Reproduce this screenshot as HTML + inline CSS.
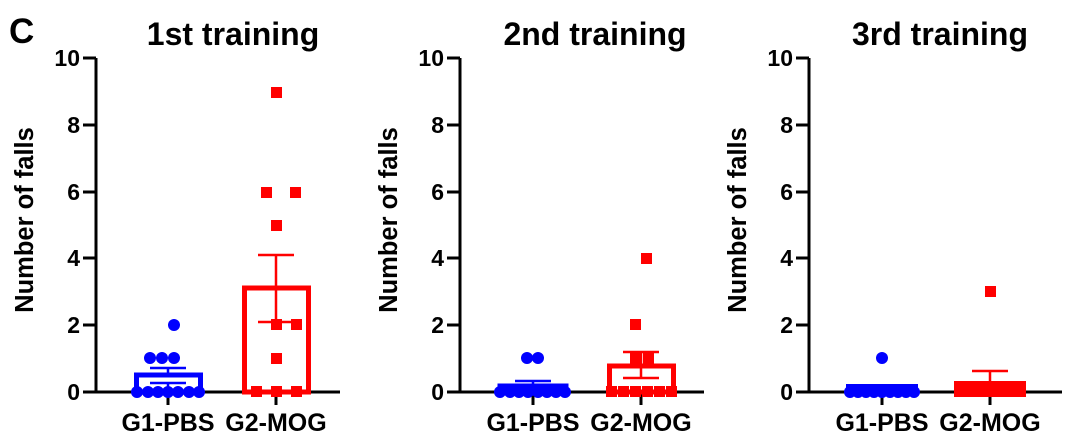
<!DOCTYPE html>
<html><head><meta charset="utf-8"><style>
html,body{margin:0;padding:0;background:#fff}
svg{display:block}
text{font-family:"Liberation Sans",Arial,sans-serif;font-weight:bold;fill:#000}
</style></head><body>
<svg width="1080" height="443" viewBox="0 0 1080 443" xmlns="http://www.w3.org/2000/svg">
<text x="9" y="43" font-size="35">C</text>

<!-- Panel 1 -->
<g>
<text x="233" y="45" font-size="32" text-anchor="middle">1st training</text>
<text transform="translate(33,220) rotate(-90)" font-size="25.5" text-anchor="middle">Number of falls</text>
<g font-size="23" text-anchor="end">
<text x="80" y="66">10</text><text x="80" y="133">8</text><text x="80" y="200">6</text><text x="80" y="266">4</text><text x="80" y="333">2</text><text x="80" y="400">0</text>
</g>
<g stroke="#000" stroke-width="3" fill="none">
<path d="M96 58V392M83 58H96M83 125H96M83 192H96M83 258H96M83 325H96M83 392H340M168 392V405M276 392V405"/>
</g>
<text x="168" y="431" font-size="25" text-anchor="middle">G1-PBS</text>
<text x="276" y="431" font-size="25" text-anchor="middle">G2-MOG</text>
<rect x="136.5" y="375" width="64" height="17" fill="none" stroke="#0000ff" stroke-width="5"/>
<path d="M168 375V368M150 368H186M168 392V383M150 383H186" stroke="#0000ff" stroke-width="2.5"/>
<g fill="#0000ff">
<circle cx="137" cy="392" r="6"/><circle cx="148" cy="392" r="6"/><circle cx="158" cy="392" r="6"/><circle cx="168" cy="392" r="6"/><circle cx="178" cy="392" r="6"/><circle cx="189" cy="392" r="6"/><circle cx="199" cy="392" r="6"/>
<circle cx="150" cy="358" r="6"/><circle cx="162" cy="358" r="6"/><circle cx="174" cy="358" r="6"/><circle cx="174" cy="325" r="6"/>
</g>
<rect x="244.5" y="288" width="64" height="104" fill="none" stroke="#ff0000" stroke-width="5"/>
<path d="M276 288V255M258 255H294M276 288V322M258 322H294" stroke="#ff0000" stroke-width="2.5"/>
<g fill="#ff0000">
<rect x="271" y="87" width="11" height="11"/><rect x="261" y="187" width="11" height="11"/><rect x="290" y="187" width="11" height="11"/><rect x="271" y="220" width="11" height="11"/>
<rect x="271" y="319" width="11" height="11"/><rect x="291" y="319" width="11" height="11"/><rect x="271" y="353" width="11" height="11"/>
<rect x="251" y="386" width="11" height="11"/><rect x="271" y="386" width="11" height="11"/><rect x="291" y="386" width="11" height="11"/>
</g>
</g>

<!-- Panel 2 -->
<g>
<text x="595" y="45" font-size="32" text-anchor="middle">2nd training</text>
<text transform="translate(397,220) rotate(-90)" font-size="25.5" text-anchor="middle">Number of falls</text>
<g font-size="23" text-anchor="end">
<text x="444" y="66">10</text><text x="444" y="133">8</text><text x="444" y="200">6</text><text x="444" y="266">4</text><text x="444" y="333">2</text><text x="444" y="400">0</text>
</g>
<g stroke="#000" stroke-width="3" fill="none">
<path d="M460 58V392M447 58H460M447 125H460M447 192H460M447 258H460M447 325H460M447 392H704M533 392V405M641 392V405"/>
</g>
<text x="533" y="431" font-size="25" text-anchor="middle">G1-PBS</text>
<text x="641" y="431" font-size="25" text-anchor="middle">G2-MOG</text>
<rect x="500" y="386" width="66" height="6" fill="none" stroke="#0000ff" stroke-width="5"/>
<path d="M533 385V381M515 381H551" stroke="#0000ff" stroke-width="2.5"/>
<g fill="#0000ff">
<circle cx="500" cy="392" r="6"/><circle cx="510" cy="392" r="6"/><circle cx="519" cy="392" r="6"/><circle cx="528" cy="392" r="6"/><circle cx="538" cy="392" r="6"/><circle cx="547" cy="392" r="6"/><circle cx="556" cy="392" r="6"/><circle cx="565" cy="392" r="6"/>
<circle cx="527" cy="358" r="6"/><circle cx="538" cy="358" r="6"/>
</g>
<rect x="609.5" y="366" width="64" height="26" fill="none" stroke="#ff0000" stroke-width="5"/>
<path d="M641 366V352M623 352H659M641 366V378M623 378H659" stroke="#ff0000" stroke-width="2.5"/>
<g fill="#ff0000">
<rect x="641" y="253" width="11" height="11"/><rect x="630" y="319" width="11" height="11"/>
<rect x="630" y="353" width="11" height="11"/><rect x="643" y="353" width="11" height="11"/>
<rect x="606" y="386" width="11" height="11"/><rect x="618" y="386" width="11" height="11"/><rect x="630" y="386" width="11" height="11"/><rect x="642" y="386" width="11" height="11"/><rect x="654" y="386" width="11" height="11"/><rect x="666" y="386" width="11" height="11"/>
</g>
</g>

<!-- Panel 3 -->
<g>
<text x="940" y="45" font-size="32" text-anchor="middle">3rd training</text>
<text transform="translate(746,220) rotate(-90)" font-size="25.5" text-anchor="middle">Number of falls</text>
<g font-size="23" text-anchor="end">
<text x="793" y="66">10</text><text x="793" y="133">8</text><text x="793" y="200">6</text><text x="793" y="266">4</text><text x="793" y="333">2</text><text x="793" y="400">0</text>
</g>
<g stroke="#000" stroke-width="3" fill="none">
<path d="M809 58V392M796 58H809M796 125H809M796 192H809M796 258H809M796 325H809M796 392H1062M882 392V405M990 392V405"/>
</g>
<text x="882" y="431" font-size="25" text-anchor="middle">G1-PBS</text>
<text x="990" y="431" font-size="25" text-anchor="middle">G2-MOG</text>
<rect x="846" y="384" width="72" height="8" fill="#0000ff"/>
<g fill="#0000ff">
<circle cx="850" cy="392" r="6"/><circle cx="858" cy="392" r="6"/><circle cx="866" cy="392" r="6"/><circle cx="874" cy="392" r="6"/><circle cx="882" cy="392" r="6"/><circle cx="890" cy="392" r="6"/><circle cx="898" cy="392" r="6"/><circle cx="906" cy="392" r="6"/><circle cx="914" cy="392" r="6"/>
<circle cx="882" cy="358" r="6"/>
</g>
<path d="M990 382V371M972 371H1008" stroke="#ff0000" stroke-width="2.5"/>
<rect x="954" y="381" width="72" height="16" fill="#ff0000"/>
<rect x="985" y="286" width="11" height="11" fill="#ff0000"/>
</g>
</svg>
</body></html>
